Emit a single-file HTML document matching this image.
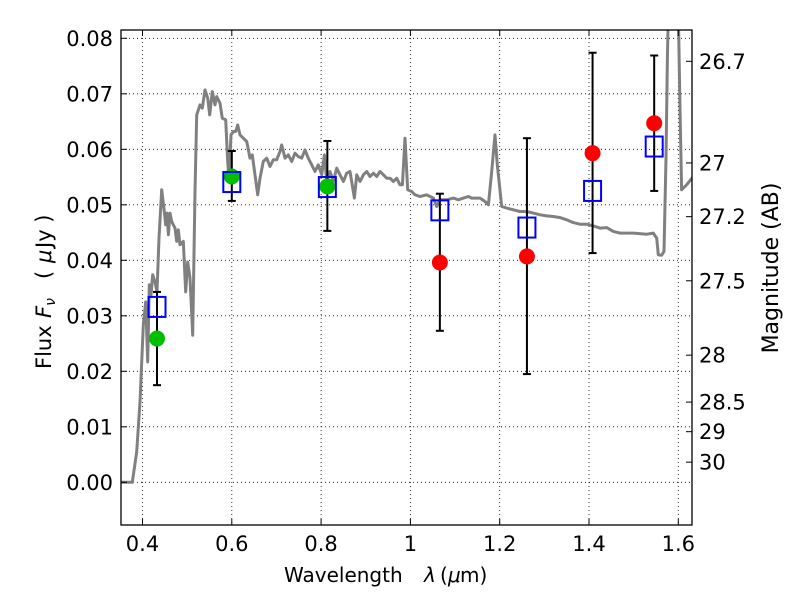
<!DOCTYPE html>
<html><head><meta charset="utf-8"><style>
body{margin:0;background:#fff;}
svg text{font-family:"DejaVu Sans","Liberation Sans",sans-serif;fill:#000;}
</style></head><body>
<svg id="chart" width="800" height="600" xmlns="http://www.w3.org/2000/svg">
<rect width="800" height="600" fill="#fff"/>
<defs><clipPath id="pc"><rect x="121" y="30" width="571" height="495"/></clipPath></defs>
<g id="grid"></g>
<g id="spec" clip-path="url(#pc)"></g>
<g id="marks"></g>
<rect x="121" y="30" width="571" height="495" fill="none" stroke="#000" stroke-width="1.3"/>
<g id="axes"></g>
<g font-size="20">
<text x="284" y="582">Wavelength</text>
<text x="424" y="582" font-style="italic" font-family="Liberation Serif, serif">λ</text>
<text x="440" y="582">(</text>
<text x="448" y="582" font-style="italic" font-family="Liberation Serif, serif">μ</text>
<text x="460" y="582">m)</text>
</g>
<g transform="translate(51,0) rotate(-90)" font-size="21">
<text x="-369" y="0">Flux</text>
<text x="-318" y="0" font-style="italic" font-family="Liberation Serif, serif">F<tspan font-size="14" dy="4">ν</tspan></text>
<text x="-279" y="0">(</text>
<text x="-263" y="0" font-style="italic" font-family="Liberation Serif, serif">μ</text>
<text x="-248" y="0">Jy )</text>
</g>
<text transform="translate(778,268) rotate(-90)" font-size="22" text-anchor="middle">Magnitude (AB)</text>
</svg>
<script>
const xTicks=[0.4,0.6,0.8,1.0,1.2,1.4,1.6];
const xTickLabels=["0.4","0.6","0.8","1","1.2","1.4","1.6"];
const yTicks=[0,0.01,0.02,0.03,0.04,0.05,0.06,0.07,0.08];
const yTickLabels=["0.00","0.01","0.02","0.03","0.04","0.05","0.06","0.07","0.08"];
const magTicks=[26.7,27,27.2,27.5,28,28.5,29,30];
const magLabels=["26.7","27","27.2","27.5","28","28.5","29","30"];
const specW=[0.3496,0.3772,0.3869,0.3944,0.4019,0.4071,0.4116,0.4153,0.4190,0.4228,0.4280,0.4325,0.4370,0.4429,0.4489,0.4519,0.4549,0.4579,0.4616,0.4653,0.4690,0.4728,0.4765,0.4802,0.4840,0.4914,0.4967,0.5012,0.5064,0.5124,0.5176,0.5213,0.5288,0.5340,0.5400,0.5460,0.5504,0.5564,0.5624,0.5661,0.5736,0.5788,0.5863,0.5908,0.5938,0.5982,0.6035,0.6087,0.6132,0.6184,0.6258,0.6333,0.6408,0.6460,0.6520,0.6580,0.6632,0.6706,0.6781,0.6856,0.6930,0.7005,0.7080,0.7117,0.7192,0.7266,0.7341,0.7416,0.7490,0.7565,0.7640,0.7714,0.7789,0.7864,0.7938,0.8013,0.8073,0.8125,0.8200,0.8275,0.8349,0.8424,0.8499,0.8573,0.8648,0.8745,0.8797,0.8872,0.8947,0.9021,0.9096,0.9171,0.9245,0.9320,0.9395,0.9469,0.9544,0.9619,0.9693,0.9768,0.9820,0.9880,0.9940,1.0029,1.0103,1.0215,1.0364,1.0514,1.0588,1.0663,1.0812,1.0962,1.1074,1.1186,1.1298,1.1372,1.1559,1.1671,1.1746,1.1820,1.1895,1.1947,1.2044,1.2156,1.2305,1.2455,1.2604,1.2753,1.2903,1.3052,1.3201,1.3351,1.3500,1.3649,1.3799,1.3948,1.4097,1.4247,1.4396,1.4545,1.4695,1.4993,1.5292,1.5441,1.5516,1.5553,1.5628,1.5680,1.5725,1.5755,1.5785,1.5994,1.6038,1.6075,1.6187,1.6337];
const specF=[0,0,0.0055,0.0145,0.0283,0.0325,0.0217,0.0356,0.0337,0.0374,0.0361,0.0343,0.0440,0.0527,0.0488,0.0464,0.0485,0.0446,0.0485,0.0470,0.0464,0.0458,0.0434,0.0455,0.0428,0.0434,0.0343,0.0397,0.0368,0.0265,0.0524,0.0662,0.0680,0.0674,0.0707,0.0692,0.0662,0.0704,0.0680,0.0695,0.0683,0.0656,0.0653,0.0578,0.0548,0.0626,0.0632,0.0632,0.0644,0.0626,0.0620,0.0614,0.0584,0.0590,0.0554,0.0518,0.0548,0.0578,0.0584,0.0569,0.0581,0.0581,0.0596,0.0608,0.0584,0.0590,0.0578,0.0593,0.0587,0.0584,0.0599,0.0584,0.0572,0.0560,0.0572,0.0554,0.0590,0.0542,0.0560,0.0542,0.0566,0.0554,0.0542,0.0557,0.0560,0.0512,0.0554,0.0542,0.0554,0.0560,0.0551,0.0557,0.0551,0.0560,0.0554,0.0548,0.0548,0.0542,0.0548,0.0536,0.0536,0.0620,0.0527,0.0524,0.0518,0.0515,0.0518,0.0512,0.0497,0.0509,0.0509,0.0512,0.0509,0.0512,0.0515,0.0512,0.0512,0.0506,0.0500,0.0560,0.0626,0.0572,0.0497,0.0494,0.0491,0.0488,0.0488,0.0485,0.0482,0.0480,0.0479,0.0477,0.0473,0.0468,0.0465,0.0465,0.0462,0.0458,0.0459,0.0452,0.0449,0.0449,0.0447,0.0449,0.0440,0.0410,0.0409,0.0416,0.0584,0.0764,0.0884,0.0884,0.0674,0.0527,0.0536,0.0551];
const greenW=[0.4325,0.600,0.814];
const greenF=[0.0259,0.0551,0.0533];
const redW=[1.066,1.261,1.408,1.546];
const redF=[0.0396,0.0407,0.0593,0.0647];
const boxW=[0.4325,0.600,0.814,1.066,1.261,1.408,1.546];
const boxF=[0.0316,0.0541,0.0532,0.0490,0.0459,0.0525,0.0605];
const errW=[0.4325,0.600,0.814,1.066,1.261,1.408,1.546];
const errLo=[0.0175,0.0507,0.0453,0.0273,0.0195,0.0413,0.0525];
const errHi=[0.0343,0.0597,0.0615,0.0520,0.0620,0.0774,0.0769];

const NS="http://www.w3.org/2000/svg";
function X(w){return 142.5+(w-0.4)*446.5;}
function Y(f){return 482.3-f*5550;}
function magY(m){return Y(Math.pow(10,(23.9-m)/2.5));}
function mk(tag,attrs,parent){const e=document.createElementNS(NS,tag);for(const k in attrs)e.setAttribute(k,attrs[k]);document.getElementById(parent).appendChild(e);return e;}

xTicks.forEach((t,i)=>{
  const g=mk('line',{x1:X(t),x2:X(t),y1:30,y2:525,stroke:'#000','stroke-width':0.8,'stroke-dasharray':'1,3'},'grid');
  
  
  mk('line',{x1:X(t),x2:X(t),y1:525,y2:519,stroke:'#000'},'axes');
  mk('line',{x1:X(t),x2:X(t),y1:30,y2:36,stroke:'#000'},'axes');
  const tx=mk('text',{x:X(t),y:551,'font-size':21,'text-anchor':'middle'},'axes');
  tx.textContent=xTickLabels[i];
  
  
});
yTicks.forEach((t,i)=>{
  const g=mk('line',{x1:121,x2:692,y1:Y(t),y2:Y(t),stroke:'#000','stroke-width':0.8,'stroke-dasharray':'1,3'},'grid');
  
  
  mk('line',{x1:121,x2:127,y1:Y(t),y2:Y(t),stroke:'#000'},'axes');
  const tx=mk('text',{x:113,y:Y(t)+7.5,'font-size':21,'text-anchor':'end'},'axes');
  tx.textContent=yTickLabels[i];
  
  
});
magTicks.forEach((m,i)=>{
  mk('line',{x1:686,x2:692,y1:magY(m),y2:magY(m),stroke:'#000'},'axes');
  const tx=mk('text',{x:699,y:magY(m)+7.5,'font-size':21},'axes');
  tx.textContent=magLabels[i];
  
  
});
let d='';
specW.forEach((w,i)=>{d+=(i?'L':'M')+X(w).toFixed(1)+','+Y(specF[i]).toFixed(1);});
const sp=mk('path',{d:d,fill:'none',stroke:'#808080','stroke-width':3,'stroke-linejoin':'round'},'spec');


errW.forEach((w,i)=>{
  const x=X(w);
  const l=mk('line',{x1:x,x2:x,y1:Y(errHi[i]),y2:Y(errLo[i]),stroke:'#000','stroke-width':2},'marks');
  
  
  mk('line',{x1:x-4,x2:x+4,y1:Y(errHi[i]),y2:Y(errHi[i]),stroke:'#000','stroke-width':2},'marks');
  mk('line',{x1:x-4,x2:x+4,y1:Y(errLo[i]),y2:Y(errLo[i]),stroke:'#000','stroke-width':2},'marks');
});
greenW.forEach((w,i)=>{
  const c=mk('circle',{cx:X(w),cy:Y(greenF[i]),r:8,fill:'#00bf00'},'marks');
  
  
});
redW.forEach((w,i)=>{
  const c=mk('circle',{cx:X(w),cy:Y(redF[i]),r:8,fill:'#ff0000'},'marks');
  
  
});
boxW.forEach((w,i)=>{
  const r=mk('rect',{x:X(w)-8.5,y:Y(boxF[i])-10,width:17,height:20,fill:'none',stroke:'#0000ff','stroke-width':2},'marks');
  
  
});
</script>
</body></html>
